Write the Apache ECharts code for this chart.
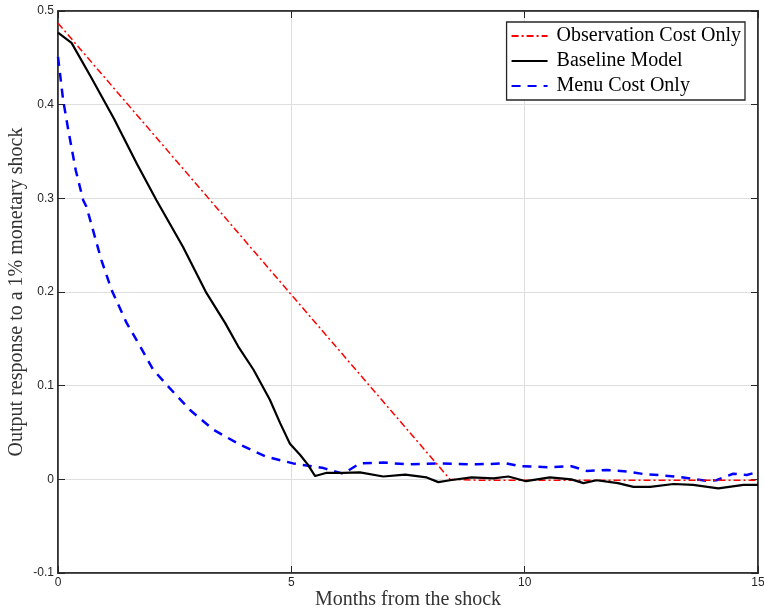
<!DOCTYPE html>
<html>
<head>
<meta charset="utf-8">
<script src="https://cdn.jsdelivr.net/npm/echarts@6/dist/echarts.min.js"></script>
<style>
    html, body { margin: 0; padding: 0; background: #fff; }
    #chart { width: 764px; height: 609px; }
</style>
</head>
<body>
<div id="chart"></div>
<script type="text/javascript">
    // months and responses
    var obsX = [0, 8.4, 9, 10, 11, 12, 13, 14, 15];
    var obsY = [0.487, 0, -0.001, -0.001, -0.001, -0.001, -0.001, -0.001, -0.001];

    var baseX = [0, 0.29, 0.7, 1.2, 1.69, 2.11, 2.68, 3.18, 3.58, 3.86, 4.19, 4.54, 4.76, 4.97, 5.19, 5.35, 5.51, 5.76, 6.1, 6.47, 6.97, 7.44, 7.9, 8.15, 8.4, 8.86, 9.33, 9.65, 10.03, 10.54, 11.0, 11.26, 11.54, 12.0, 12.33, 12.69, 13.19, 13.61, 14.15, 14.69, 15];
    var baseY = [0.477, 0.466, 0.43, 0.385, 0.337, 0.298, 0.248, 0.199, 0.167, 0.142, 0.117, 0.085, 0.060, 0.038, 0.026, 0.016, 0.0035, 0.007, 0.007, 0.0075, 0.003, 0.005, 0.002, -0.003, -0.001, 0.002, 0.001, 0.003, -0.002, 0.002, 0.0, -0.004, -0.001, -0.004, -0.008, -0.008, -0.005, -0.006, -0.0096, -0.006, -0.006];

    var menuX = [0, 0.11, 0.22, 0.38, 0.54, 0.61, 0.93, 1.15, 1.47, 1.76, 2.04, 2.4, 2.83, 3.33, 3.9, 4.47, 5.04, 5.69, 6.11, 6.47, 6.97, 7.47, 8.11, 8.97, 9.6, 9.9, 10.5, 11.0, 11.33, 11.76, 12.26, 12.54, 13.0, 13.4, 13.9, 14.11, 14.47, 14.76, 15];
    var menuY = [0.451, 0.405, 0.373, 0.33, 0.298, 0.291, 0.234, 0.202, 0.167, 0.142, 0.117, 0.097, 0.074, 0.053, 0.037, 0.024, 0.017, 0.012, 0.006, 0.017, 0.018, 0.016, 0.017, 0.016, 0.017, 0.014, 0.013, 0.014, 0.009, 0.010, 0.008, 0.0057, 0.004, 0.002, -0.0015, -0.001, 0.006, 0.0046, 0.008];

    function pairs(xs, ys) {
        var out = [];
        for (var i = 0; i < xs.length; i++) out.push([xs[i], ys[i]]);
        return out;
    }

    var serif = 'Liberation Serif';
    var axisColor = '#262626';
    var chart = echarts.init(document.getElementById('chart'));
    var option = {
        animation: false,
        backgroundColor: '#fff',
        grid: {
            left: 58, right: 6, top: 11, bottom: 36,
            outerBoundsMode: 'none', containLabel: false,
            show: true, borderColor: axisColor, borderWidth: 1.5
        },
        legend: {
            orient: 'vertical',
            right: 19, top: 22,
            itemWidth: 36, itemHeight: 12, itemGap: 5,
            padding: [4, 4, 4, 4],
            backgroundColor: '#fff',
            borderColor: axisColor, borderWidth: 1.3,
            itemStyle: { opacity: 0 },
            textStyle: { fontFamily: serif, fontSize: 20, color: '#000', padding: [0, 0, 0, 4] },
            data: ['Observation Cost Only', 'Baseline Model', 'Menu Cost Only']
        },
        xAxis: [{
            type: 'value', min: 0, max: 15, interval: 5,
            name: 'Months from the shock', nameLocation: 'middle', nameGap: 17,
            nameMoveOverlap: false,
            nameTextStyle: { fontFamily: serif, fontSize: 20, color: '#333' },
            axisLine: { show: true, onZero: false, lineStyle: { color: axisColor, width: 1.5 } },
            axisTick: { show: true, inside: true, length: 7, lineStyle: { color: axisColor } },
            axisLabel: { fontSize: 12, color: axisColor, margin: 4 },
            splitLine: { show: true, lineStyle: { color: '#dedede', width: 1 } }
        }, {
            type: 'value', min: 0, max: 15, interval: 5, position: 'top',
            axisLine: { show: true, onZero: false, lineStyle: { color: axisColor, width: 1.5 } },
            axisTick: { show: true, inside: true, length: 7, lineStyle: { color: axisColor } },
            axisLabel: { show: false }, splitLine: { show: false }
        }],
        yAxis: [{
            type: 'value', min: -0.1, max: 0.5, interval: 0.1,
            name: 'Output response to a 1% monetary shock', nameLocation: 'middle', nameGap: 31,
            nameMoveOverlap: false,
            nameTextStyle: { fontFamily: serif, fontSize: 20, color: '#333' },
            axisLine: { show: true, onZero: false, lineStyle: { color: axisColor, width: 1.5 } },
            axisTick: { show: true, inside: true, length: 7, lineStyle: { color: axisColor } },
            axisLabel: { fontSize: 12, color: axisColor, margin: 4 },
            splitLine: { show: true, lineStyle: { color: '#dedede', width: 1 } }
        }, {
            type: 'value', min: -0.1, max: 0.5, interval: 0.1, position: 'right',
            axisLine: { show: true, onZero: false, lineStyle: { color: axisColor, width: 1.5 } },
            axisTick: { show: true, inside: true, length: 7, lineStyle: { color: axisColor } },
            axisLabel: { show: false }, splitLine: { show: false }
        }],
        series: [
            {
                name: 'Observation Cost Only', type: 'line', symbol: 'none', z: 3,
                data: pairs(obsX, obsY),
                itemStyle: { color: '#ff0000' },
                lineStyle: { color: '#ff0000', width: 1.5, type: [7, 3, 2, 3] }
            },
            {
                name: 'Baseline Model', type: 'line', symbol: 'none', z: 4,
                data: pairs(baseX, baseY),
                itemStyle: { color: '#000' },
                lineStyle: { color: '#000', width: 2.2 }
            },
            {
                name: 'Menu Cost Only', type: 'line', symbol: 'none', z: 2,
                data: pairs(menuX, menuY),
                itemStyle: { color: '#0000ff' },
                lineStyle: { color: '#0000ff', width: 2.5, type: [9, 7] }
            }
        ]
    };
    chart.setOption(option);
</script>
</body>
</html>
